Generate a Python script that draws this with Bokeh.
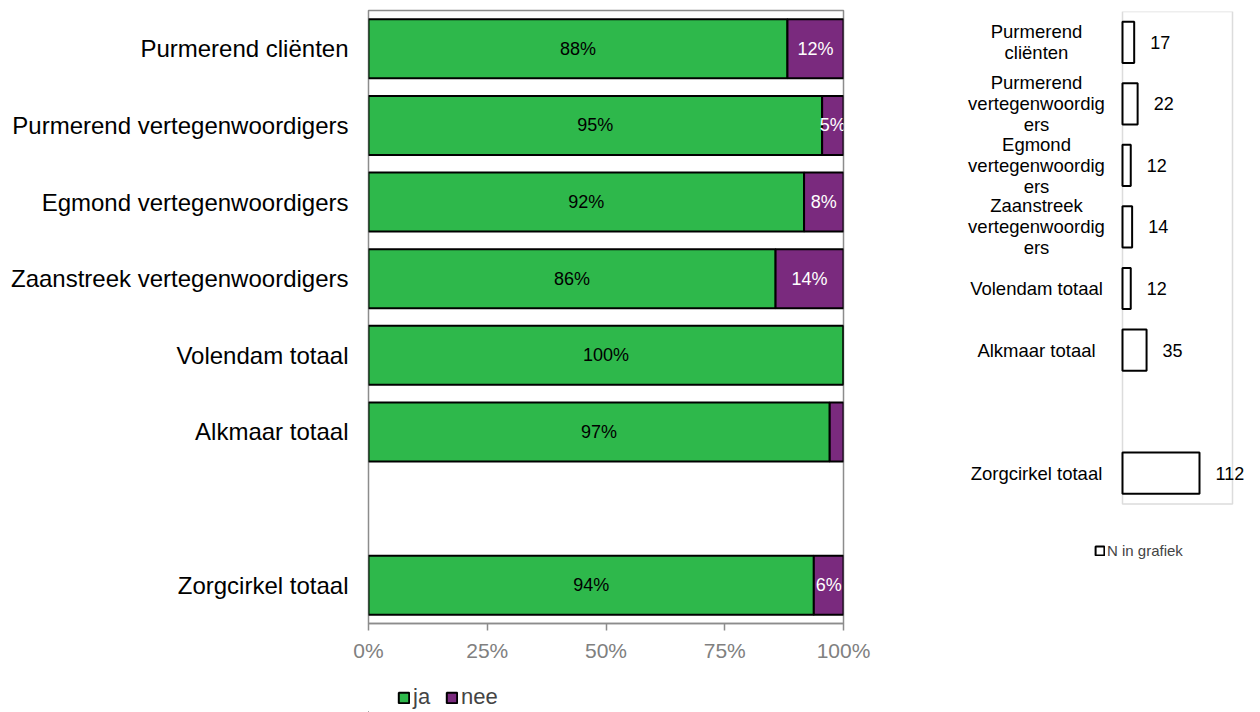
from bokeh.plotting import figure
from bokeh.models import (FactorRange, Range1d, FixedTicker, Legend, LegendItem,
                          ColumnDataSource, LabelSet, BoxAnnotation)
from bokeh.core.properties import value
from bokeh.layouts import row, column
from bokeh.embed import file_html
from bokeh.resources import INLINE

# ---------------- data ----------------
categories = ["Purmerend cliënten", "Purmerend vertegenwoordigers",
              "Egmond vertegenwoordigers", "Zaanstreek vertegenwoordigers",
              "Volendam totaal", "Alkmaar totaal", "Zorgcirkel totaal"]
gap = " "
ja_values = [88.2, 95.5, 91.7, 85.7, 100.0, 97.1, 93.75]
nee_values = [11.8, 4.5, 8.3, 14.3, 0.0, 2.9, 6.25]
ja_labels = ["88%", "95%", "92%", "86%", "100%", "97%", "94%"]
nee_labels = ["12%", "5%", "8%", "14%", "", "", "6%"]
n_values = [17, 22, 12, 14, 12, 35, 112]
n_labels = ["17", "22", "12", "14", "12", "35", "112"]
n_category_labels = ["Purmerend\ncliënten", "Purmerend\nvertegenwoordig\ners",
                     "Egmond\nvertegenwoordig\ners", "Zaanstreek\nvertegenwoordig\ners",
                     "Volendam totaal", "Alkmaar totaal", "Zorgcirkel totaal"]
x_ticks = [0, 25, 50, 75, 100]
x_tick_labels = ["0%", "25%", "50%", "75%", "100%"]
series_names = ["ja", "nee"]
n_series_name = "N in grafiek"
n_axis_max = 160

GREEN = "#2EB84B"
PURPLE = "#7A2A7E"
GRAY = "#8C8C8C"
FONT = "Liberation Sans"

factors = categories[:6] + [gap] + categories[6:]
factors_rev = list(reversed(factors))

totals = [a + b for a, b in zip(ja_values, nee_values)]
src = ColumnDataSource(dict(
    cat=categories, ja=ja_values, nee=nee_values, total=totals,
    ja_mid=[v / 2 for v in ja_values],
    nee_mid=[a + b / 2 for a, b in zip(ja_values, nee_values)],
    ja_lab=ja_labels, nee_lab=nee_labels,
))

# ---------------- left chart ----------------
p1 = figure(width=880, height=675, y_range=FactorRange(factors=factors_rev),
            x_range=Range1d(0, 100), output_backend="svg", toolbar_location=None,
            min_border_left=368, min_border_right=37, min_border_top=10,
            min_border_bottom=52)
p1.y_range.range_padding = 0
r_ja = p1.hbar(y="cat", left=0, right="ja", height=0.77, source=src,
               fill_color=GREEN, line_color="black", line_width=2)
r_nee = p1.hbar(y="cat", left="ja", right="total", height=0.77, source=src,
                fill_color=PURPLE, line_color="black", line_width=2)

p1.add_layout(LabelSet(x="ja_mid", y="cat", text="ja_lab", source=src,
                       text_align="center", text_baseline="middle",
                       text_font=value(FONT), text_font_size="18px", text_color="black"))
p1.add_layout(LabelSet(x="nee_mid", y="cat", text="nee_lab", source=src,
                       text_align="center", text_baseline="middle",
                       text_font=value(FONT), text_font_size="18px", text_color="white"))

p1.grid.visible = False
p1.outline_line_color = GRAY
p1.outline_line_width = 1.5

xa = p1.xaxis[0]
xa.ticker = FixedTicker(ticks=x_ticks)
xa.major_label_overrides = {t: l for t, l in zip(x_ticks, x_tick_labels)}
xa.axis_line_color = GRAY
xa.axis_line_width = 1.5
xa.major_tick_line_color = GRAY
xa.major_tick_line_width = 1.5
xa.major_tick_in = 0
xa.major_tick_out = 7
xa.minor_tick_line_color = None
xa.major_label_text_font = FONT
xa.major_label_text_font_size = "21px"
xa.major_label_text_color = "#808080"
xa.major_label_standoff = 8

ya = p1.yaxis[0]
ya.axis_line_color = None
ya.major_tick_line_color = None
ya.minor_tick_line_color = None
ya.major_tick_in = 0
ya.major_tick_out = 0
ya.major_label_text_font = FONT
ya.major_label_text_font_size = "24px"
ya.major_label_text_color = "black"
ya.major_label_standoff = 20

# legend strip under the left chart (its frame is aligned with the left chart's frame);
# the key renderers are styled like the bars and sit outside the visible range
p_leg = figure(width=880, height=37, x_range=Range1d(0, 1), y_range=Range1d(0, 1),
               output_backend="svg", toolbar_location=None,
               min_border_left=0, min_border_right=0, min_border_top=0,
               min_border_bottom=0)
p_leg.xaxis.visible = False
p_leg.yaxis.visible = False
p_leg.grid.visible = False
p_leg.outline_line_color = None
k_ja = p_leg.hbar(y=[-5], left=[-3], right=[-2], height=0.5, fill_color=GREEN,
                  line_color="black", line_width=2)
k_nee = p_leg.hbar(y=[-5], left=[-3], right=[-2], height=0.5, fill_color=PURPLE,
                   line_color="black", line_width=2)
leg1 = Legend(items=[LegendItem(label=series_names[0], renderers=[k_ja]),
                     LegendItem(label=series_names[1], renderers=[k_nee])],
              orientation="horizontal", location=(29, 2),
              glyph_width=13, glyph_height=13, label_text_font=FONT,
              label_text_font_size="22px", label_standoff=3, spacing=12,
              padding=0, margin=0, border_line_color=None,
              background_fill_alpha=0)
p_leg.add_layout(leg1, "center")

# ---------------- right chart ----------------
px_frame_w = 378
px_zero = 242          # x=0 position inside frame
px_box = 110           # width of the grey box for 0..n_axis_max
units_per_px = n_axis_max / px_box
x_lo = -px_zero * units_per_px
x_hi = (px_frame_w - px_zero) * units_per_px
slot_px = 61.5
legend_slot = "  "     # empty band under the box that holds the legend
factors2_rev = [legend_slot] + factors_rev

src2 = ColumnDataSource(dict(cat=categories, n=n_values, lab=n_labels))
p2 = figure(frame_width=px_frame_w, frame_height=int(round(slot_px * len(factors2_rev))),
            y_range=FactorRange(factors=factors2_rev),
            x_range=Range1d(x_lo, x_hi), output_backend="svg", toolbar_location=None,
            min_border_left=0, min_border_right=2, min_border_top=11,
            min_border_bottom=0)
p2.y_range.range_padding = 0
p2.add_layout(BoxAnnotation(left=0, right=n_axis_max, bottom=1, fill_alpha=0,
                            line_color=GRAY, line_width=1.5, level="underlay"))
r_n = p2.hbar(y="cat", left=0, right="n", height=0.67, source=src2,
              fill_color="white", line_color="black", line_width=2)
p2.add_layout(LabelSet(x="n", y="cat", text="lab", source=src2, x_offset=16,
                       text_align="left", text_baseline="middle",
                       text_font=value(FONT), text_font_size="18px", text_color="black"))

# category labels, wrapped, centred left of the box
line_h = 21
lc, lt, lo = [], [], []
for c, lab in zip(categories, n_category_labels):
    lines = lab.split("\n")
    k = len(lines)
    for i, ln in enumerate(lines):
        lc.append(c)
        lt.append(ln)
        lo.append(((k - 1) / 2 - i) * line_h)
src3 = ColumnDataSource(dict(cat=lc, txt=lt, off=lo, x0=[0] * len(lc)))
p2.add_layout(LabelSet(x="x0", y="cat", text="txt", y_offset="off", x_offset=-86,
                       source=src3, text_align="center", text_baseline="middle",
                       text_font=value(FONT), text_font_size="18.5px",
                       text_color="black"))
p2.grid.visible = False
p2.outline_line_color = None
p2.xaxis.visible = False
p2.yaxis.visible = False

leg2 = Legend(items=[LegendItem(label=n_series_name, renderers=[r_n])],
              location=(214, 6), glyph_width=11, glyph_height=11,
              label_text_font=FONT, label_text_font_size="15px", label_standoff=2,
              padding=0, margin=0, border_line_color=None, background_fill_alpha=0)
p2.add_layout(leg2, "center")

layout = row(column(p1, p_leg, spacing=0), p2, spacing=0)
open("out.html", "w").write(file_html(layout, INLINE))
